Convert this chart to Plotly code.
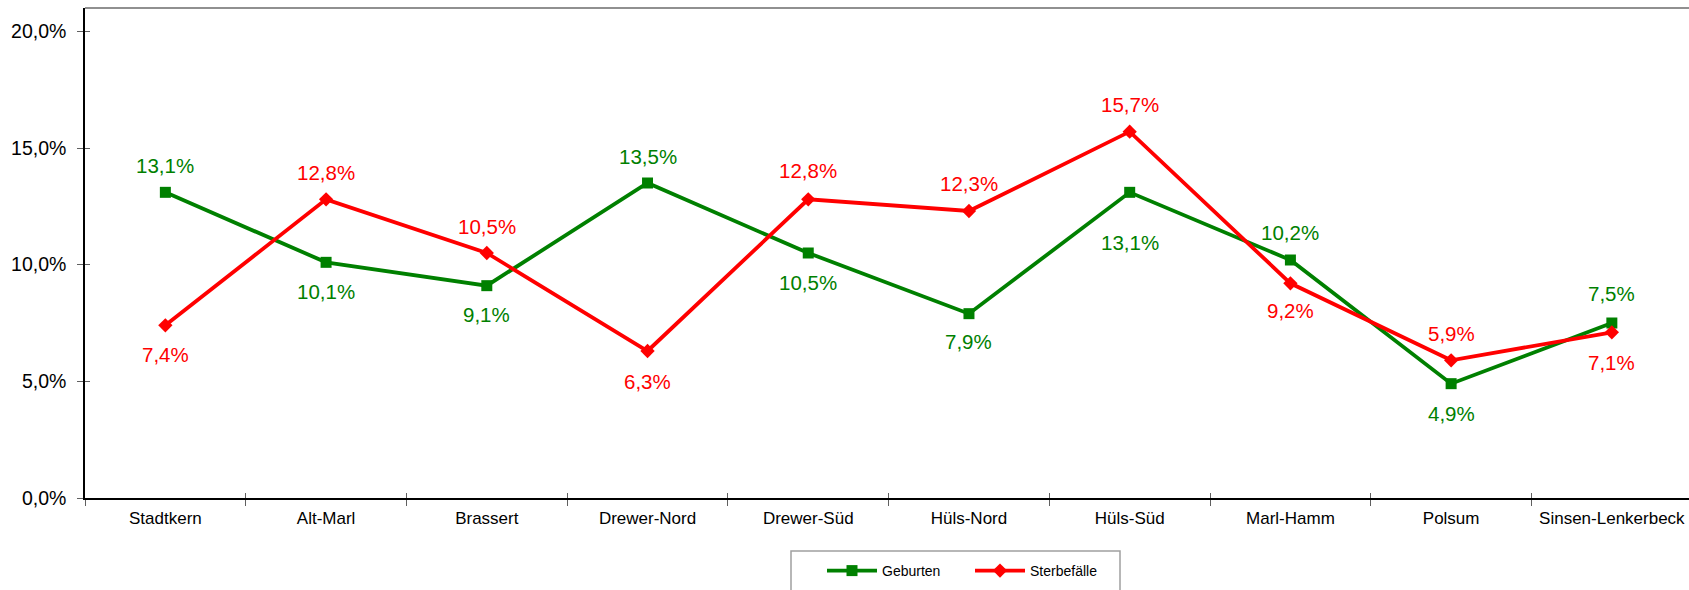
import plotly.graph_objects as go

categories = ["Stadtkern", "Alt-Marl", "Brassert", "Drewer-Nord", "Drewer-Süd",
              "Hüls-Nord", "Hüls-Süd", "Marl-Hamm", "Polsum", "Sinsen-Lenkerbeck"]
geburten = [13.1, 10.1, 9.1, 13.5, 10.5, 7.9, 13.1, 10.2, 4.9, 7.5]
sterbefaelle = [7.4, 12.8, 10.5, 6.3, 12.8, 12.3, 15.7, 9.2, 5.9, 7.1]
y_tickvals = [0, 5, 10, 15, 20]
y_ticktext = ["0,0%", "5,0%", "10,0%", "15,0%", "20,0%"]

# label offsets in pixels (negative = above)
geb_shift = [27, -29, -29, 27, -29, -28, -50, 28, -30, 30]
ster_shift = [-29, 27, 27, -30, 29, 28, 27, -27, 27, -30]

GREEN = "#008000"
RED = "#FF0000"
FONT = "Liberation Sans, Arial, sans-serif"

def fmt(v):
    return f"{v:.1f}%".replace(".", ",")

fig = go.Figure()
fig.add_trace(go.Scatter(
    x=categories, y=geburten, name="Geburten", mode="lines+markers",
    line=dict(color=GREEN, width=3.8),
    marker=dict(symbol="square", size=11, color=GREEN),
))
fig.add_trace(go.Scatter(
    x=categories, y=sterbefaelle, name="Sterbefälle", mode="lines+markers",
    line=dict(color=RED, width=3.8),
    marker=dict(symbol="diamond", size=11, color=RED),
))

annotations = []
for c, v, s in zip(categories, geburten, geb_shift):
    annotations.append(dict(x=c, y=v, text=fmt(v), showarrow=False, yshift=s,
                            font=dict(family=FONT, size=20.5, color=GREEN)))
for c, v, s in zip(categories, sterbefaelle, ster_shift):
    annotations.append(dict(x=c, y=v, text=fmt(v), showarrow=False, yshift=s,
                            font=dict(family=FONT, size=20.5, color=RED)))

W, H = 1689, 590
L, T, B = 85, 8, 92
pw = W - L
ph = H - T - B

def px_x(x):
    return (x - L) / pw

def px_y(y):
    return (H - B - y) / ph

shapes = [
    # top border
    dict(type="line", xref="paper", yref="paper", x0=0, x1=1, y0=1, y1=1,
         line=dict(color="#909090", width=2)),
    # legend box
    dict(type="rect", xref="paper", yref="paper",
         x0=px_x(791), x1=px_x(1120), y0=px_y(551), y1=px_y(600),
         line=dict(color="#a0a0a0", width=1.5), fillcolor="rgba(0,0,0,0)"),
]

fig.update_layout(
    width=W, height=H,
    margin=dict(l=L, r=0, t=T, b=B, pad=0),
    paper_bgcolor="white", plot_bgcolor="white",
    separators=",.",
    font=dict(family=FONT, color="black"),
    showlegend=True,
    legend=dict(orientation="h", x=px_x(822), y=px_y(571), xanchor="left", yanchor="middle",
                font=dict(family=FONT, size=14, color="black"),
                bgcolor="rgba(0,0,0,0)", itemwidth=50, entrywidth=83, tracegroupgap=0),
    annotations=annotations,
    shapes=shapes,
    xaxis=dict(
        type="category", range=[-0.5, 9.48], tickson="boundaries",
        showline=True, linecolor="black", linewidth=1.5,
        ticks="outside", ticklen=6, tickcolor="#606060", tickwidth=1,
        showgrid=False, zeroline=False,
        tickfont=dict(family=FONT, size=17, color="black"),
        ticklabelstandoff=4,
    ),
    xaxis2=dict(
        type="category", range=[-0.5, 9.48], tickson="boundaries", overlaying="x",
        ticks="inside", ticklen=5, tickcolor="#606060", tickwidth=1,
        showticklabels=False, showgrid=False, zeroline=False, showline=False,
        categoryarray=categories, categoryorder="array",
    ),
    yaxis=dict(
        range=[0, 21], tickvals=y_tickvals, ticktext=y_ticktext,
        showline=True, linecolor="black", linewidth=1.5,
        ticks="outside", ticklen=6, tickcolor="#606060", tickwidth=1,
        showgrid=False, zeroline=False,
        tickfont=dict(family=FONT, size=19.5, color="black"),
        ticklabelstandoff=7,
    ),
    yaxis2=dict(
        range=[0, 21], tickvals=y_tickvals, overlaying="y", ticks="inside", ticklen=5,
        tickcolor="#606060", tickwidth=1, showticklabels=False, showgrid=False,
        zeroline=False, showline=False,
    ),
)
# invisible trace to activate the overlay axes
fig.add_trace(go.Scatter(x=categories, y=geburten, xaxis="x2", yaxis="y2",
                         mode="markers", marker=dict(opacity=0), showlegend=False,
                         hoverinfo="skip"))

fig.write_html("out.html", post_script="document.body.style.margin='0';",
               config={"displayModeBar": False})
